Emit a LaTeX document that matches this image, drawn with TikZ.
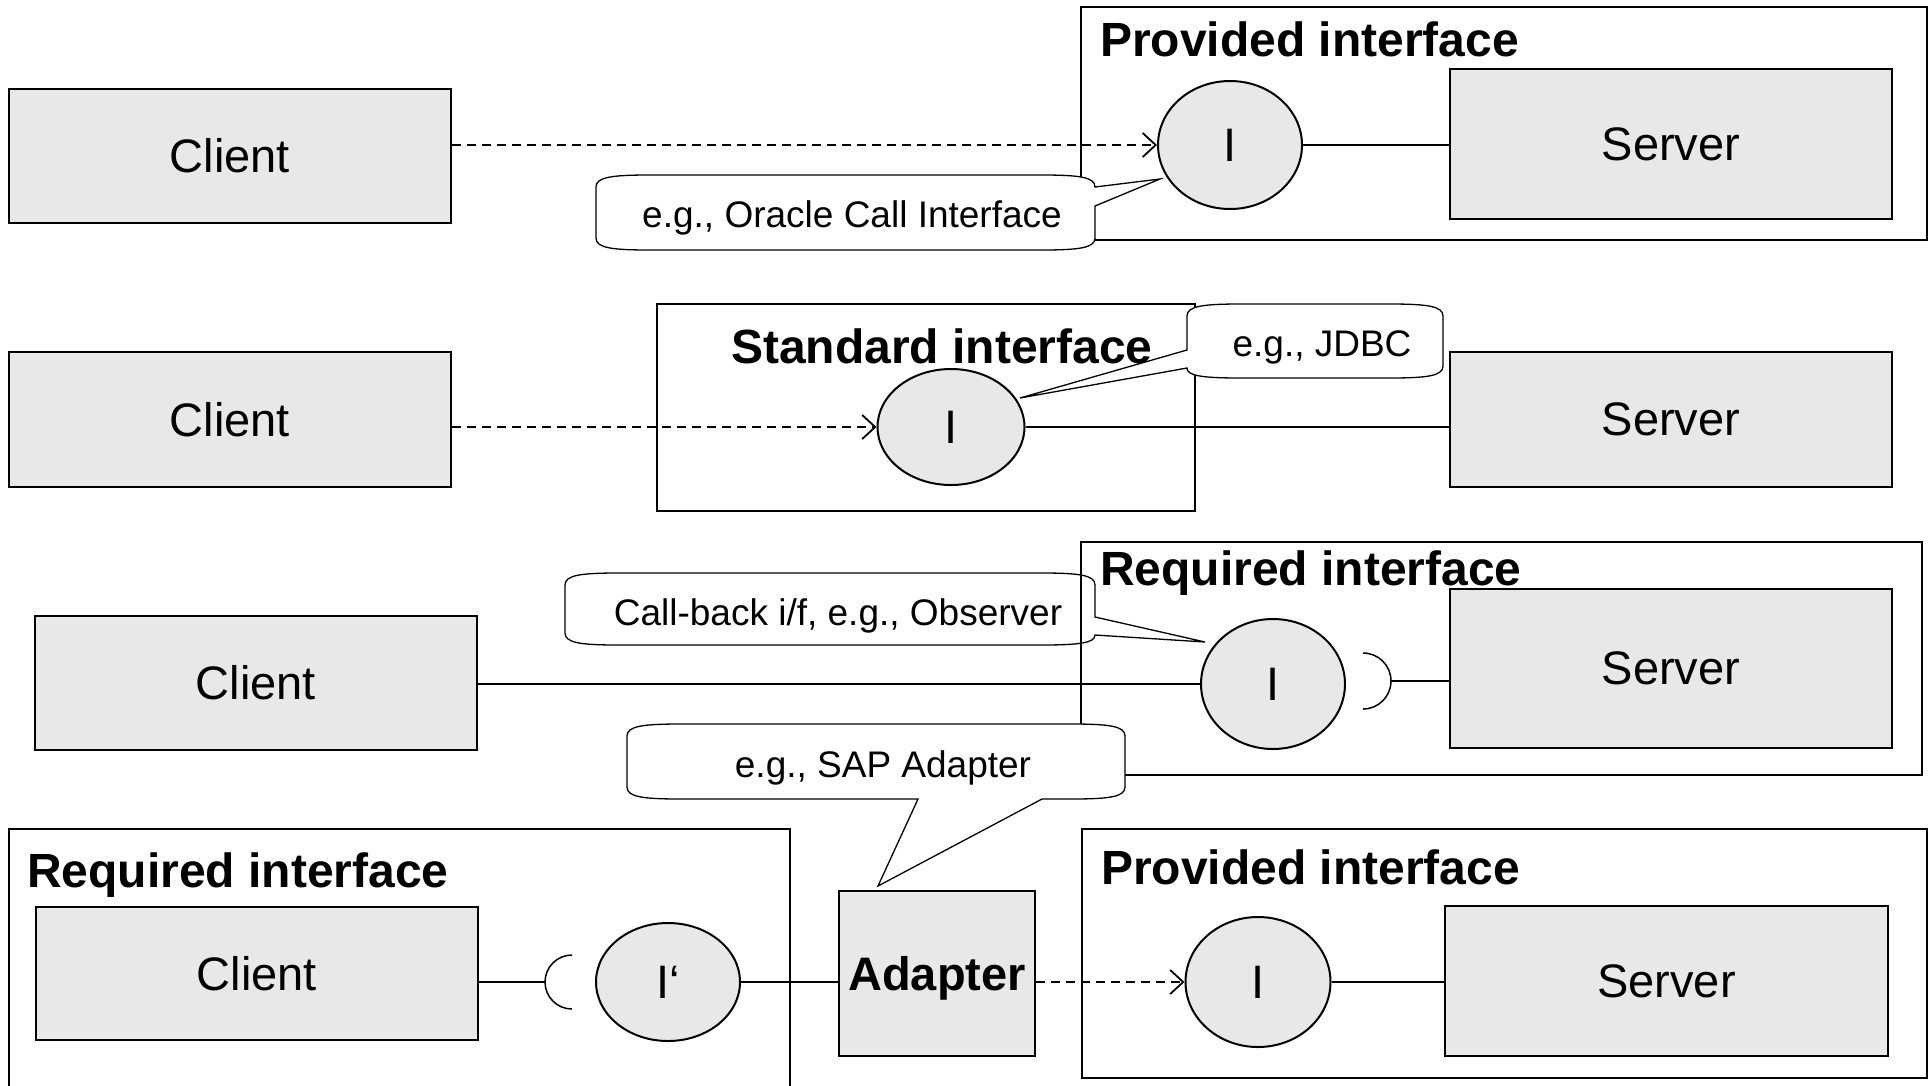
\documentclass[tikz,border=0pt]{standalone}
\usepackage{fontspec}
\setmainfont{Liberation Sans}
\usetikzlibrary{shapes.geometric,arrows.meta}
\definecolor{boxgray}{RGB}{232,232,232}
\begin{document}
\begin{tikzpicture}[x=1pt,y=-1pt,
  comp/.style={draw, line width=2pt, fill=boxgray, minimum width=442pt, inner sep=0pt, font=\fontsize{47}{56}\selectfont},
  iface/.style={ellipse, draw, line width=2pt, fill=boxgray, minimum width=144pt, inner sep=0pt, font=\fontsize{47}{56}\selectfont},
  frame/.style={draw, line width=2pt},
  title/.style={anchor=base west, inner sep=0pt, font=\fontsize{48}{58}\selectfont\bfseries},
  ctext/.style={inner sep=0pt, font=\fontsize{37}{44}\selectfont},
  callout/.style={draw, fill=white, line width=1.3pt, line join=miter},
  conn/.style={line width=2pt},
  dep/.style={line width=1.8pt, dash pattern=on 9pt off 6pt, -{Straight Barb[length=13pt,width=24pt,line width=1.8pt]}},
  socket/.style={line width=1.5pt}
]
\useasboundingbox (0,0) rectangle (1932,1085);

% ---------- Row 1 ----------
\draw[frame] (1080.5,7.4) rectangle (1927,240);
\node[title] (t1) at (1100,56) {Provided interface};
\node[comp, minimum height=134pt] (c1) at (230,156) {Client};
\node[iface, minimum height=128pt] (i1) at (1230,145) {I};
\node[comp, minimum height=150pt] (s1) at (1671,144) {Server};
\draw[dep] (c1.east |- i1.west) -- (i1.west);
\draw[conn] (i1.east) -- (i1.east -| s1.west);
\draw[callout] (596,187) .. controls (596,177) and (612,175) .. (650,175) -- (1041,175) .. controls (1079,175) and (1095,177) .. (1095,187) -- (1160,179) -- (1095,206) -- (1095,238) .. controls (1095,248) and (1079,250) .. (1041,250) -- (650,250) .. controls (612,250) and (596,248) .. (596,238) -- cycle;
\node[ctext] (n1) at (852,218) {e.g., Oracle Call Interface};

% ---------- Row 2 ----------
\draw[frame] (657,304) rectangle (1195,511);
\node[title] (t2) at (731,363) {Standard interface};
\node[comp, minimum height=135pt] (c2) at (230,419.5) {Client};
\node[iface, minimum width=147pt, minimum height=116pt] (i2) at (951,427) {I};
\node[comp, minimum height=135pt] (s2) at (1671,419.5) {Server};
\draw[dep] (c2.east |- i2.west) -- (i2.west);
\draw[conn] (i2.east) -- (i2.east -| s2.west);
\draw[callout] (1187,316) .. controls (1187,306) and (1203,304) .. (1241,304) -- (1389,304) .. controls (1427,304) and (1443,306) .. (1443,316) -- (1443,366) .. controls (1443,376) and (1427,378) .. (1389,378) -- (1241,378) .. controls (1203,378) and (1187,376) .. (1187,368) -- (1020,398) -- (1187,350) -- cycle;
\node[ctext] (n2) at (1322,347) {e.g., JDBC};

% ---------- Row 3 ----------
\draw[callout] (565,585) .. controls (565,575) and (581,573) .. (619,573) -- (1041,573) .. controls (1079,573) and (1095,575) .. (1095,585) -- (1095,617) -- (1205,642) -- (1095,635) .. controls (1095,643) and (1079,645) .. (1041,645) -- (619,645) .. controls (581,645) and (565,643) .. (565,633) -- cycle;
\node[ctext] (n3) at (838,616) {Call-back i/f, e.g., Observer};
\draw[frame] (1080.5,542) rectangle (1922,775);
\node[title] (t3) at (1100,585) {Required interface};
\node[comp, minimum height=134pt] (c3) at (256,683) {Client};
\node[iface, minimum height=130pt] (i3) at (1273,684) {I};
\node[comp, minimum height=159pt] (s3) at (1671,668.5) {Server};
\draw[conn] (c3.east |- i3.west) -- (i3.west);
\draw[socket] (1363,653) arc[start angle=90, end angle=-90, radius=28pt];
\coordinate (k3) at (1391,681);
\draw[conn] (k3) -- (k3 -| s3.west);

% ---------- Row 4 ----------
\draw[frame] (8.6,1095) -- (8.6,829) -- (790,829) -- (790,1095);
\node[title] (t4l) at (27,887) {Required interface};
\node[comp, minimum height=133pt] (c4) at (257,973.5) {Client};
\draw[socket] (572,955) arc[start angle=90, end angle=270, radius=27pt];
\coordinate (k4) at (545,982);
\draw[conn] (c4.east |- k4) -- (k4);
\node[iface, minimum height=118pt] (i4p) at (668,982) {I‘};
\node[comp, minimum width=196pt, minimum height=165pt, text height=34pt, text depth=0pt, font=\fontsize{47}{56}\selectfont\bfseries] (ad) at (937,973.5) {Adapter};
\draw[conn] (i4p.east) -- (i4p.east -| ad.west);
\draw[frame] (1082,829) rectangle (1927,1078);
\node[title] (t4r) at (1101,884) {Provided interface};
\node[iface, minimum width=145pt, minimum height=130pt] (i4) at (1258,982) {I};
\node[comp, minimum width=443pt, minimum height=150pt] (s4) at (1666.5,981) {Server};
\draw[dep] (ad.east |- i4.west) -- (i4.west);
\draw[conn] (i4.east) -- (i4.east -| s4.west);
\draw[callout] (627,736) .. controls (627,726) and (643,724) .. (681,724) -- (1071,724) .. controls (1109,724) and (1125,726) .. (1125,736) -- (1125,787) .. controls (1125,797) and (1109,799) .. (1071,799) -- (1042,799) -- (878,886) -- (918,799) -- (681,799) .. controls (643,799) and (627,797) .. (627,787) -- cycle;
\node[ctext] (n4) at (883,768) {e.g., SAP Adapter};
\end{tikzpicture}
\end{document}
